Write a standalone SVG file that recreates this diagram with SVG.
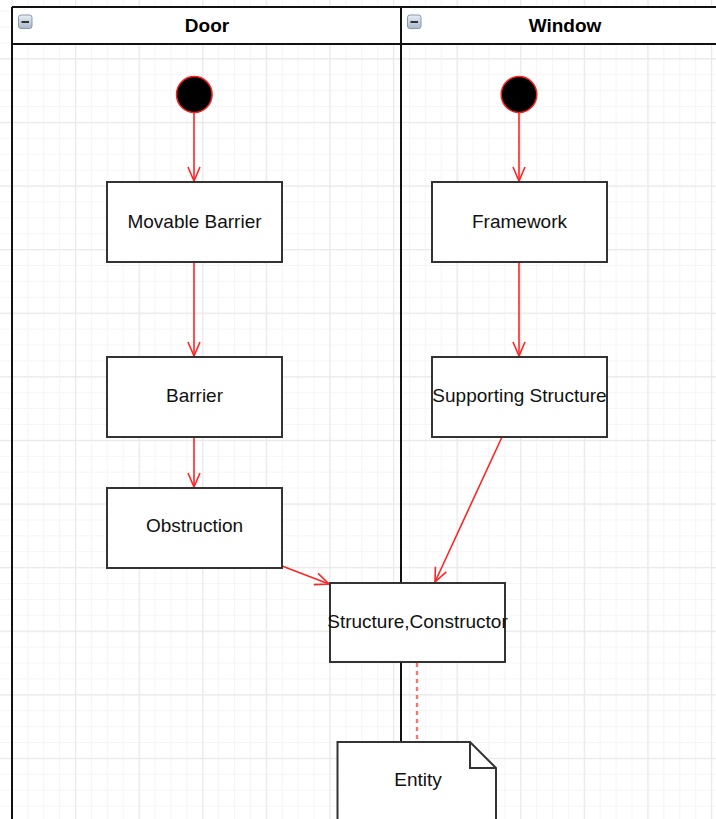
<svg xmlns="http://www.w3.org/2000/svg" width="716" height="819" viewBox="0 0 716 819">
<style>
.box{fill:#fff;stroke:#333;stroke-width:2}
.lbl{font-family:"Liberation Sans",Arial,sans-serif;font-size:19px;fill:#111;text-anchor:middle}
.hdr{font-family:"Liberation Sans",Arial,sans-serif;font-size:19px;font-weight:bold;fill:#000;text-anchor:middle}
.lane{fill:none;stroke:#111;stroke-width:2}
.edge{fill:none;stroke:#ff2424;stroke-width:1.6}
.start{fill:#000;stroke:#ff1f1f;stroke-width:1.5}
</style>
<defs>
<pattern id="minor" patternUnits="userSpaceOnUse" x="11.4" y="10.6" width="15.9" height="15.9">
<path d="M0 0.5H15.9M0.5 0V15.9" stroke="#f5f5f5" stroke-width="1.2" fill="none"/>
</pattern>
<pattern id="major" patternUnits="userSpaceOnUse" x="11.4" y="-5.3" width="63.6" height="63.6">
<path d="M0 0.5H63.6M0.5 0V63.6" stroke="#e9e9e9" stroke-width="1.4" fill="none"/>
</pattern>
<linearGradient id="ig" x1="0" y1="0" x2="0" y2="1">
<stop offset="0" stop-color="#e8eef5"/>
<stop offset="1" stop-color="#a9bacb"/>
</linearGradient>
<marker id="arr" markerUnits="userSpaceOnUse" markerWidth="20" markerHeight="16" viewBox="-16 -8 20 16" refX="0" refY="0" orient="auto">
<path d="M-14 -6L0 0L-14 6" fill="none" stroke="#ff2424" stroke-width="1.6"/>
</marker>
</defs>
<rect width="716" height="819" fill="#fff"/>
<rect width="716" height="819" fill="url(#minor)"/>
<rect width="716" height="819" fill="url(#major)"/>

<g id="pool">
<rect x="12" y="7" width="730" height="37" fill="#fff"/>
<path class="lane" d="M12 7H716M12 44H716M12 7V819M401 7V819"/>
</g>
<g id="lane-door">
<rect x="18.5" y="15" width="13.5" height="13.5" rx="2.5" fill="url(#ig)" stroke="#8597ad" stroke-width="1"/>
<rect x="21.5" y="21" width="7.5" height="2" fill="#333"/>
<text class="hdr" x="207" y="32">Door</text>
</g>
<g id="lane-window">
<rect x="407.5" y="15" width="13.5" height="13.5" rx="2.5" fill="url(#ig)" stroke="#8597ad" stroke-width="1"/>
<rect x="410.5" y="21" width="7.5" height="2" fill="#333"/>
<text class="hdr" x="565" y="32">Window</text>
</g>

<g id="connectors">
<line class="edge" x1="194" y1="113" x2="194" y2="181" marker-end="url(#arr)"/>
<line class="edge" x1="194" y1="262" x2="194" y2="356" marker-end="url(#arr)"/>
<line class="edge" x1="194" y1="437" x2="194" y2="487" marker-end="url(#arr)"/>
<line class="edge" x1="519" y1="113" x2="519" y2="181" marker-end="url(#arr)"/>
<line class="edge" x1="519" y1="262" x2="519" y2="356" marker-end="url(#arr)"/>
<line class="edge" x1="282" y1="566" x2="329" y2="584" marker-end="url(#arr)"/>
<line class="edge" x1="502" y1="437" x2="435" y2="582" marker-end="url(#arr)"/>
<line x1="417" y1="663" x2="417" y2="742" stroke="#ff7070" stroke-width="2.4" stroke-dasharray="4 4"/>
</g>

<g id="start-door"><ellipse class="start" cx="194.3" cy="94.5" rx="17.8" ry="18"/></g>
<g id="start-window"><ellipse class="start" cx="519" cy="94.5" rx="17.8" ry="18"/></g>

<g id="movable-barrier"><rect class="box" x="107" y="182" width="175" height="80"/><text class="lbl" x="194.5" y="227.5">Movable Barrier</text></g>
<g id="barrier"><rect class="box" x="107" y="357" width="175" height="80"/><text class="lbl" x="194.5" y="402">Barrier</text></g>
<g id="obstruction"><rect class="box" x="107" y="488" width="175" height="80"/><text class="lbl" x="194.5" y="532">Obstruction</text></g>
<g id="framework"><rect class="box" x="432" y="182" width="175" height="80"/><text class="lbl" x="519.5" y="227.5">Framework</text></g>
<g id="supporting-structure"><rect class="box" x="432" y="357" width="175" height="80"/><text class="lbl" x="519.5" y="402">Supporting Structure</text></g>
<g id="structure-constructor"><rect class="box" x="330" y="583" width="175" height="79"/><text class="lbl" x="417.5" y="627.5">Structure,Constructor</text></g>
<g id="entity">
<path class="box" d="M337.5 742H470L496 768V830H337.5Z"/>
<path d="M470 742V768H496" fill="none" stroke="#333" stroke-width="2"/>
<text class="lbl" x="418" y="785.5">Entity</text>
</g>
</svg>
